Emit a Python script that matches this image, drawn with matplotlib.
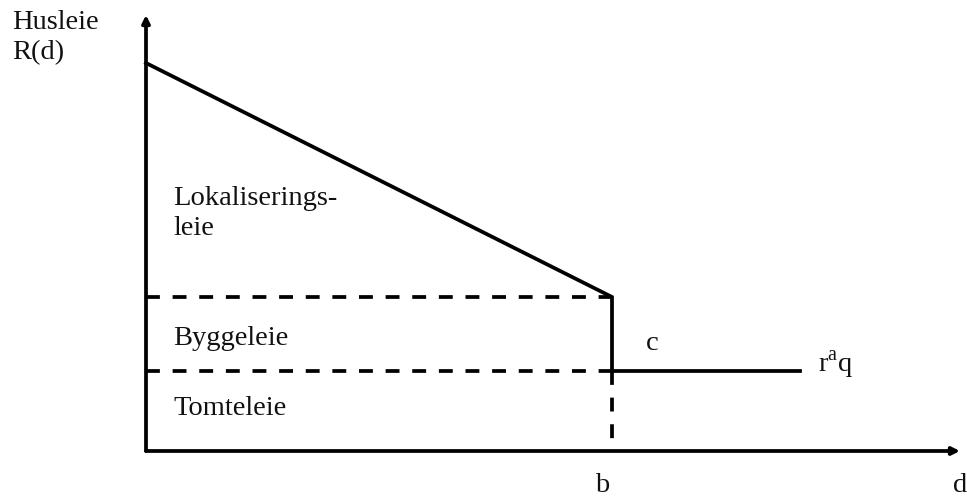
import matplotlib.pyplot as plt

# Rent profile R(d) over distance d (diagram units)
d_start = 0.0
b = 4.66          # distance where location rent vanishes
d_end = 6.54      # end of the flat agricultural part
d_axis = 8.14     # end of the d-axis
R_max = 3.88      # rent at the centre
R_b = 1.54        # rent at distance b (building + land rent)
raq = 0.80        # land rent level r^a q
R_axis = 4.36     # top of the R-axis

# region names, one entry per text line, with the baseline height of each line
region_lines = ['Lokaliserings-', 'leie', 'Byggeleie', 'Tomteleie']
region_y = [2.46, 2.16, 1.06, 0.36]
axis_title_lines = ['Husleie', 'R(d)']
axis_title_y = [4.22, 3.92]

plt.rcParams['font.family'] = ['Liberation Serif', 'DejaVu Serif']

fig = plt.figure(figsize=(9.67, 4.99), dpi=100)
ax = fig.add_axes([0, 0, 1, 1])
ax.set_xlim(-1.46, 8.21)
ax.set_ylim(-0.48, 4.51)
ax.axis('off')

lw = 2.7
dash = (0, (3.7, 3.4))

# axes with arrow heads
arrow = dict(arrowstyle='-|>', lw=lw, color='black', mutation_scale=11,
             shrinkA=0, shrinkB=0)
ax.annotate('', xy=(d_start, R_axis), xytext=(d_start, 0), arrowprops=arrow)
ax.annotate('', xy=(d_axis, 0), xytext=(d_start, 0), arrowprops=arrow)

# rent curve: falling part, jump at b, flat part
ax.plot([d_start, b, b, d_end], [R_max, R_b, raq, raq], color='black', lw=lw,
        solid_joinstyle='miter')

# dashed guide lines
ax.plot([d_start, b], [R_b, R_b], color='black', lw=lw, linestyle=dash)
ax.plot([d_start, b], [raq, raq], color='black', lw=lw, linestyle=dash)
ax.plot([b, b], [raq, 0.06], color='black', lw=lw, linestyle=dash)

fs = 20.5
txt = dict(fontsize=fs, va='baseline', color='#111111')
for label, y in zip(region_lines, region_y):
    ax.text(0.27, y, label, ha='left', **txt)
for label, y in zip(axis_title_lines, axis_title_y):
    ax.text(-1.34, y, label, ha='left', **txt)

ax.text(b + 0.40, 1.01, 'c', ha='center', **txt)
ax.text(d_end + 0.18, 0.79, r'r$^{\mathregular{a}}$q', ha='left', **txt)
ax.text(b - 0.10, -0.41, 'b', ha='center', **txt)
ax.text(d_axis + 0.0, -0.41, 'd', ha='center', **txt)

fig.savefig('out.png', dpi=100)
